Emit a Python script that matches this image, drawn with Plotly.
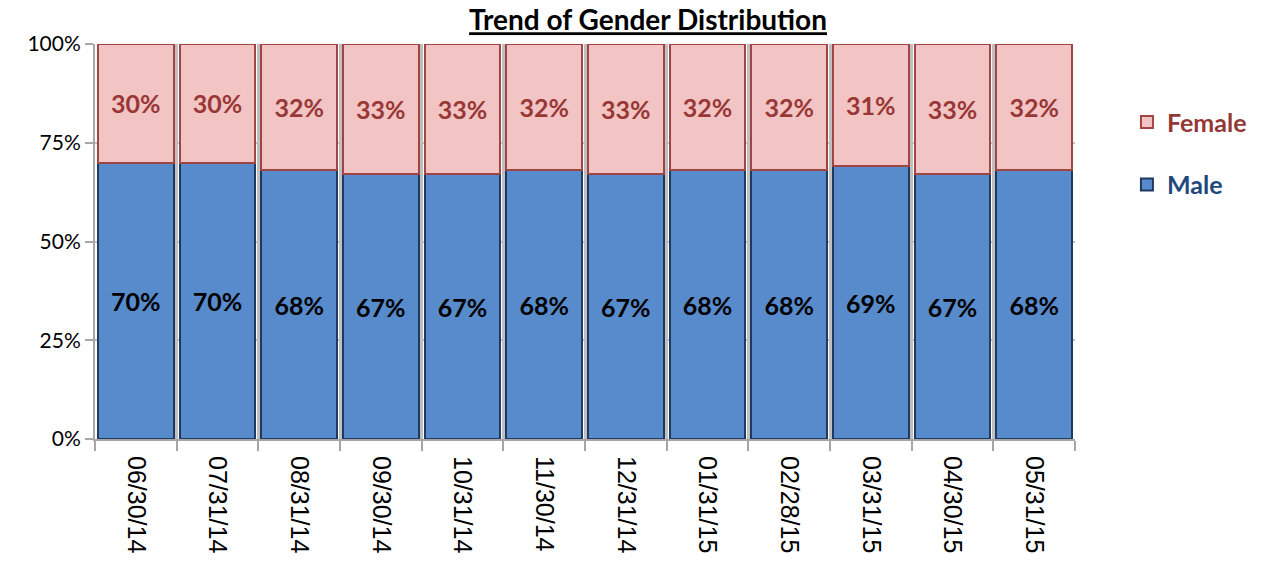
import plotly.graph_objects as go

dates = ["06/30/14", "07/31/14", "08/31/14", "09/30/14", "10/31/14", "11/30/14",
         "12/31/14", "01/31/15", "02/28/15", "03/31/15", "04/30/15", "05/31/15"]
male = [70, 70, 68, 67, 67, 68, 67, 68, 68, 69, 67, 68]
female = [30, 30, 32, 33, 33, 32, 33, 32, 32, 31, 33, 32]
y_ticks = [0, 25, 50, 75, 100]
y_tick_labels = ["0%", "25%", "50%", "75%", "100%"]

fig = go.Figure()
fig.add_trace(go.Bar(
    x=dates, y=male, name="<span style='color:#1F497D'><b>Male</b></span>",
    legendgroup="m", legendrank=2,
    marker=dict(color="#578BCB", line=dict(color="#1F3A60", width=2)),
    text=[f"{v}%" for v in male], texttemplate="<b>%{text}</b>",
    textposition="inside", insidetextanchor="middle",
    textangle=0, constraintext="none",
    textfont=dict(family="Lato", size=25, color="black"),
    hoverinfo="skip",
))
fig.add_trace(go.Bar(
    x=dates, y=female, name="<span style='color:#953735'><b>Female</b></span>",
    legendgroup="f", legendrank=1,
    marker=dict(color="#F2C4C4", line=dict(color="#A04543", width=2)),
    text=[f"{v}%" for v in female], texttemplate="<b>%{text}</b>",
    textposition="inside", insidetextanchor="middle",
    textangle=0, constraintext="none",
    textfont=dict(family="Lato", size=25, color="#983735"),
    hoverinfo="skip",
))

fig.update_layout(
    width=1264, height=561,
    barmode="stack", bargap=0.07,
    paper_bgcolor="white", plot_bgcolor="white",
    margin=dict(l=95, r=189, t=44, b=122, autoexpand=False),
    title=dict(text="<b><u>Trend of Gender Distribution</u></b>", x=0.5127, xanchor="center",
               y=0.9635, yanchor="middle",
               font=dict(family="Lato", size=28, color="black")),
    legend=dict(x=1.053, y=0.86, xanchor="left", yanchor="top",
                traceorder="grouped", tracegroupgap=27,
                font=dict(family="Lato", size=25)),
    showlegend=True,
)

fig.update_xaxes(
    type="category", tickangle=90, tickson="boundaries",
    ticks="outside", ticklen=10, tickcolor="#A6A6A6", tickwidth=2,
    showgrid=True, gridcolor="#BFBFBF", gridwidth=3,
    showline=True, linecolor="#A6A6A6", linewidth=2,
    tickfont=dict(family="Liberation Sans", size=25, color="black"),
    ticklabelstandoff=10,
    automargin=False,
)
fig.update_yaxes(
    range=[0, 100], tickvals=y_ticks, ticktext=y_tick_labels,
    ticks="outside", ticklen=8, tickcolor="#A6A6A6", tickwidth=2,
    showgrid=True, gridcolor="#BFBFBF", gridwidth=2,
    showline=True, linecolor="#A6A6A6", linewidth=2,
    tickfont=dict(family="Lato", size=21, color="black"),
    zeroline=False, automargin=False,
)

fig.write_html("out.html", config={"displayModeBar": False},
               post_script="document.body.style.margin='0';")
